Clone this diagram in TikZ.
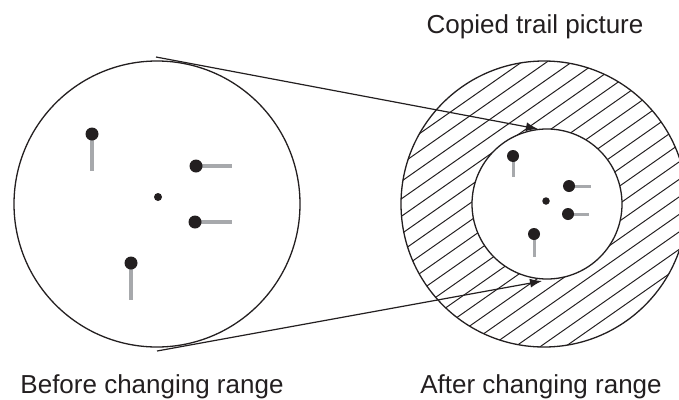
\documentclass[tikz,border=0pt]{standalone}
\usepackage{fontspec}
\setmainfont{Liberation Sans}
\usetikzlibrary{arrows.meta}
\definecolor{ink}{HTML}{231F20}
\definecolor{tail}{HTML}{A7A9AC}
\tikzset{
  ring/.style={circle, draw=ink, line width=1.3pt, inner sep=0pt},
  blob/.style={circle, fill=ink, inner sep=0pt, minimum size=#1},
  trail/.style={draw=tail, line width=#1},
  hatch/.style={draw=ink, line width=1pt},
  link/.style={draw=ink, line width=1.2pt, -{Latex[length=12pt,width=9pt]}},
  caption/.style={anchor=base, font=\fontsize{26}{30}\selectfont, text=ink, inner sep=0pt}
}
\begin{document}
\begin{tikzpicture}[x=1pt,y=-1pt]
\useasboundingbox (0,0) rectangle (679,399);
\begin{scope}
\clip (0,0) rectangle (679,399);
% right: hatched outer disc
\begin{scope}
\clip (544,204) circle (143);
\foreach \i in {-18,...,18}
  \draw[hatch] ({544+25*\i-260},{204+260*0.7}) -- ({544+25*\i+260},{204-260*0.7});
\end{scope}
\node[ring, minimum size=286pt] (outer) at (544,204) {};
\end{scope}
\node[ring, fill=white, minimum size=150pt] (inner) at (547,204) {};
% left circle
\node[ring, minimum size=286pt] (left) at (157,204) {};
% left trails and dots
\draw[trail=4pt] (92,134) -- (92,171);
\draw[trail=4pt] (196,166) -- (232,166);
\draw[trail=4pt] (195,222) -- (232,222);
\draw[trail=4pt] (131,263) -- (131,300);
\node[blob=13pt] (l1) at (92,134) {};
\node[blob=13pt] (l2) at (196,166) {};
\node[blob=13pt] (l3) at (195,222) {};
\node[blob=13pt] (l4) at (131,263) {};
\node[blob=8pt] (lc) at (158,197) {};
% inner trails and dots
\draw[trail=3pt] (513,156) -- (513,177);
\draw[trail=3pt] (569,186) -- (591,186);
\draw[trail=3pt] (568,214) -- (589,214);
\draw[trail=3pt] (534,234) -- (534,257);
\node[blob=12pt] (r1) at (513,156) {};
\node[blob=12pt] (r2) at (569,186) {};
\node[blob=12pt] (r3) at (568,214) {};
\node[blob=12pt] (r4) at (534,234) {};
\node[blob=7.5pt] (rc) at (546,201) {};
% connectors
\coordinate (ts) at (156,57);
\coordinate (te) at (538,129);
\coordinate (bs) at (157,351);
\coordinate (be) at (542,281);
\draw[link] (ts) -- (te);
\draw[link] (bs) -- (be);
% captions
\node[caption] (c1) at (535,33) {Copied trail picture};
\node[caption] (c2) at (152,393) {Before changing range};
\node[caption] (c3) at (541,393) {After changing range};
\end{tikzpicture}
\end{document}
